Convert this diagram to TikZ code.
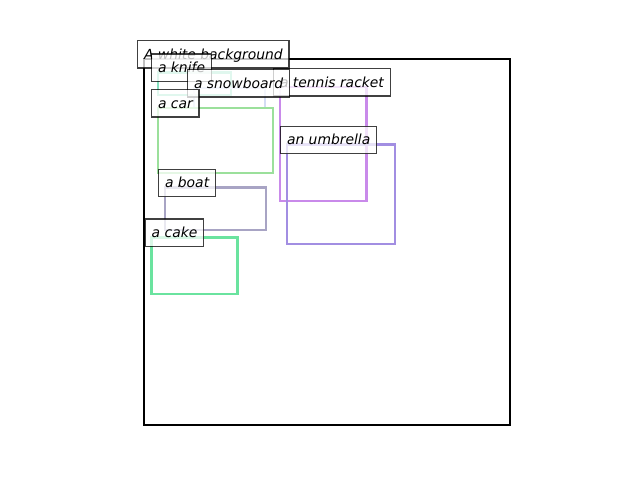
\documentclass[tikz,border=0pt]{standalone}
\usepackage{fontspec}
\setmainfont{DejaVu Sans}
\definecolor{cknife}{HTML}{84E0BE}
\definecolor{csnow}{HTML}{D4DCF4}
\definecolor{ctennis}{HTML}{C98AEA}
\definecolor{ccar}{HTML}{9BE09B}
\definecolor{cumb}{HTML}{A28EE2}
\definecolor{cboat}{HTML}{A8A4C4}
\definecolor{ccake}{HTML}{6AE39F}
\begin{document}
\begin{tikzpicture}[x=0.72pt,y=-0.72pt,
  frame/.style={line width=1.5pt, draw=black},
  objbox/.style={line width=1.8pt},
  lbl/.style={anchor=base west, xshift=-4.54pt, font=\itshape\fontsize{10}{12}\selectfont,
    fill=white, fill opacity=0.75, text opacity=1, draw=black, draw opacity=0.75,
    line width=1pt, inner sep=4.54pt, outer sep=0pt,
    text height=8.64pt, text depth=1.94pt}]
\useasboundingbox (0,0) rectangle (640,480);
\draw[frame] (144,59) rectangle (510,425);
\draw[objbox, draw=cknife] (158,72.3) rectangle (231,95);
\draw[objbox, draw=csnow] (194,88) rectangle (265,108);
\draw[objbox, draw=ctennis] (280,87) rectangle (366.5,201);
\draw[objbox, draw=ccar] (158,108) rectangle (273,173);
\draw[objbox, draw=cumb] (287,144.5) rectangle (395,244);
\draw[objbox, draw=cboat] (165,187.5) rectangle (266,230);
\draw[objbox, draw=ccake] (151.7,237.3) rectangle (237.5,294);
\node[lbl] (lbg) at (144,59) {A white background};
\node[lbl] (lten) at (280,87) {a tennis racket};
\node[lbl] (lknife) at (158,72.3) {a knife};
\node[lbl] (lsnow) at (194,88) {a snowboard};
\node[lbl] (lcar) at (158,108) {a car};
\node[lbl] (lumb) at (287,144.5) {an umbrella};
\node[lbl] (lboat) at (165,187.5) {a boat};
\node[lbl] (lcake) at (151.7,237.3) {a cake};
\end{tikzpicture}
\end{document}
